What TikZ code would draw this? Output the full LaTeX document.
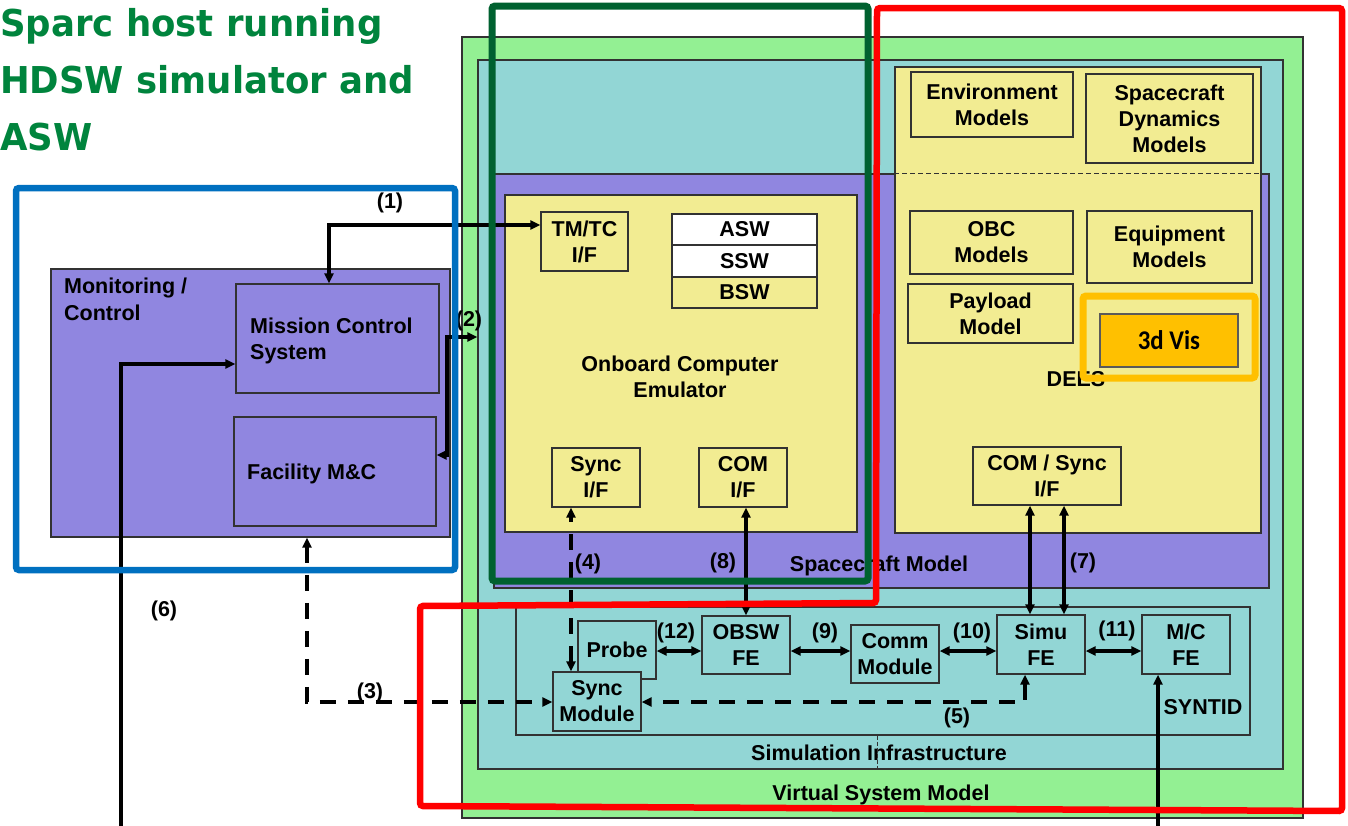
\documentclass[tikz,border=0pt]{standalone}
\usepackage{fontspec}
\setmainfont{Liberation Sans}
\newfontfamily\titlef{DejaVu Sans}
\newfontfamily\visf{Carlito}
\usetikzlibrary{arrows.meta,fit}
\definecolor{vsmc}{RGB}{147,240,147}
\definecolor{simc}{RGB}{146,214,213}
\definecolor{scmc}{RGB}{144,134,224}
\definecolor{ylwc}{RGB}{242,236,146}
\definecolor{ttlc}{RGB}{0,132,61}
\definecolor{bluec}{RGB}{0,112,192}
\definecolor{dgreenc}{RGB}{0,97,48}
\definecolor{orngc}{RGB}{255,192,0}
\definecolor{edgec}{RGB}{50,50,50}
\definecolor{grayc}{RGB}{90,90,90}
\newcommand{\boxfont}{\bfseries\fontsize{21.5}{26}\selectfont}
% \bx[options]{name}{x1}{y1}{x2}{y2} {text};
\newcommand{\bx}[6][]{\node[box,#1,minimum width={(#5-#3)*1pt},minimum height={(#6-#4)*1pt}] (#2) at ({(#3+#5)/2},{(#4+#6)/2})}
\begin{document}
\begin{tikzpicture}[x=1pt,y=-1pt,
  >={Triangle[length=10pt,width=9pt]},
  cont/.style={draw=edgec, line width=1.2pt, inner sep=0pt},
  box/.style={draw=edgec, line width=1.4pt, inner sep=0pt, align=center, font=\boxfont},
  lbl/.style={inner sep=0pt, font=\boxfont},
  ttl/.style={inner sep=0pt, anchor=base west, text=ttlc, font=\titlef\bfseries\fontsize{37}{44}\selectfont},
  conn/.style={line width=3.2pt, black},
  dconn/.style={line width=3.2pt, black, dash pattern=on 16pt off 12pt},
  hl/.style={draw=#1, line width=6.5pt, inner sep=0pt, rounded corners=3pt}]
\useasboundingbox (0,0) rectangle (1348,825);
\fill[white] (0,0) rectangle (1348,825);

% title
\node[ttl] (t1) at (0,36) {\scalebox{0.96}[1]{Sparc host running}};
\node[ttl] (t2) at (0,93) {\scalebox{0.96}[1]{HDSW simulator and}};
\node[ttl] (t3) at (0,150) {\scalebox{0.96}[1]{ASW}};

% containers
\node[cont, fill=vsmc, fit={(462,37)(1303,818)}] (vsm) {};
\node[cont, fill=simc, fit={(478,60)(1283,769)}] (sim) {};
\node[cont, fill=scmc, fit={(494,174)(1269,588)}] (scm) {};
\node[cont, fill=ylwc, fit={(895,67)(1261,533)}] (dees) {};
\draw[edgec, line width=1.2pt, dash pattern=on 5pt off 3pt] (dees.west |- scm.north) -- (dees.east |- scm.north);

% OBC emulator
\node[cont, fill=ylwc, fit={(505,195)(857,532)}] (obc) {};
\bx[fill=ylwc]{tmtc}{541}{212}{628}{271} {TM/TC\\I/F};
\bx[fill=white]{asw}{672}{214}{817}{245} {ASW};
\bx[fill=white]{ssw}{672}{245}{817}{277} {SSW};
\bx[fill=ylwc]{bsw}{672}{277}{817}{308} {BSW};
\bx[fill=ylwc]{syncif}{552}{448}{640}{507} {Sync\\I/F};
\bx[fill=ylwc]{comif}{699}{448}{787}{507} {COM\\I/F};
\node[lbl, anchor=base] (obcl1) at (680,371) {Onboard Computer};
\node[lbl, anchor=base] (obcl2) at (680,397) {Emulator};

% DEES
\bx[fill=ylwc]{env}{911}{72}{1073}{137} {Environment\\Models};
\bx[fill=ylwc]{scd}{1086}{74}{1253}{163} {Spacecraft\\Dynamics\\Models};
\bx[fill=ylwc]{obcm}{910}{211}{1073}{274} {OBC\\Models};
\bx[fill=ylwc]{equip}{1087}{211}{1252}{283} {Equipment\\Models};
\bx[fill=ylwc]{payload}{908}{284}{1073}{343} {Payload\\Model};
\node[lbl, anchor=base] (deesl) at (1076,386) {DEES};
\bx[draw=grayc, line width=2pt, fill=orngc, font=\visf\bfseries\fontsize{27}{30}\selectfont]{vis}{1100}{314}{1238}{367} {\scalebox{0.92}[1]{3d Vis}};
\bx[fill=ylwc]{comsync}{973}{447}{1121}{505} {COM / Sync\\I/F};

% labels of containers
\node[lbl, anchor=base] (scml) at (879,571) {Spacecraft Model};
\node[lbl, anchor=base] (siml) at (879,760) {Simulation Infrastructure};
\node[lbl, anchor=base] (vsml) at (881,800) {Virtual System Model};

% SYNTID
\node[cont, fit={(516,607)(1250,735)}] (syntid) {};
\node[lbl, anchor=base] (syntidl) at (1203,714) {SYNTID};
\bx[fill=simc]{probe}{578}{621}{656}{679} {Probe};
\bx[fill=simc]{syncmod}{553}{672}{641}{731} {Sync\\Module};
\bx[fill=simc]{obsw}{702}{616}{790}{674} {OBSW\\FE};
\bx[fill=simc]{comm}{851}{625}{939}{683} {Comm\\Module};
\bx[fill=simc]{simu}{997}{615}{1085}{674} {Simu\\FE};
\bx[fill=simc]{mcfe}{1142}{615}{1230}{674} {M/C\\FE};
\coordinate (cdiv) at (877,0);
\draw[edgec, line width=0.8pt, dash pattern=on 4pt off 2pt] (syntid.south -| cdiv) -- (sim.south -| cdiv);

% Monitoring / Control
\node[cont, fill=scmc, fit={(51,269)(450,537)}] (mon) {};
\node[cont, fill=scmc, fit={(236,284)(439,393)}] (mcs) {};
\node[cont, fill=scmc, fit={(234,417)(436,526)}] (fac) {};
\node[lbl, anchor=base west] (monl1) at (64,293) {Monitoring /};
\node[lbl, anchor=base west] (monl2) at (64,320) {Control};
\node[lbl, anchor=base west] (mcsl1) at (250,333) {Mission Control};
\node[lbl, anchor=base west] (mcsl2) at (250,359) {System};
\node[lbl, anchor=base west] (facl) at (247,479) {Facility M\&C};

% helper coordinates
\coordinate (c1) at (329,225);
\coordinate (c2a) at (447,455);
\coordinate (c2b) at (447,337);
\coordinate (c3) at (307,702);
\coordinate (c4) at (571,0);
\coordinate (c5) at (1025,702);
\coordinate (c6) at (121,364);
\coordinate (c6b) at (121,830);
\coordinate (c7a) at (1030,0);
\coordinate (c7b) at (1064,0);
\coordinate (c8) at (746,0);
\coordinate (ch) at (0,651);
\coordinate (cmc) at (1158,830);

% connectors
\draw[conn,<->] (mcs.north -| c1) |- (tmtc.west |- c1);
\draw[conn,<->] (fac.east |- c2a) -- (c2a) -- (c2b) -- (sim.west |- c2b);
\draw[dconn,<->] (mon.south -| c3) -- (c3) -- (syncmod.west |- c3);
\draw[dconn,<->] (syncmod.north -| c4) -- (syncif.south -| c4);
\draw[dconn,<->] (simu.south -| c5) -- (c5) -- (syncmod.east |- c5);
\draw[conn,->] (c6b) |- (mcs.west |- c6);
\draw[conn,<->] (simu.north -| c7a) -- (comsync.south -| c7a);
\draw[conn,<->] (simu.north -| c7b) -- (comsync.south -| c7b);
\draw[conn,<->] (obsw.north -| c8) -- (comif.south -| c8);
\draw[conn,<->] (probe.east |- ch) -- (obsw.west |- ch);
\draw[conn,<->] (obsw.east |- ch) -- (comm.west |- ch);
\draw[conn,<->] (comm.east |- ch) -- (simu.west |- ch);
\draw[conn,<->] (simu.east |- ch) -- (mcfe.west |- ch);
\draw[conn,->] (cmc) -- (mcfe.south -| cmc);

% connector labels
\node[lbl, anchor=base] (l1) at (390,208) {(1)};
\node[lbl, anchor=base] (l2) at (469,326) {(2)};
\node[lbl, anchor=base] (l3) at (370,698) {(3)};
\node[lbl, anchor=base] (l4) at (588,569) {(4)};
\node[lbl, anchor=base] (l5) at (957,723) {(5)};
\node[lbl, anchor=base] (l6) at (164,616) {(6)};
\node[lbl, anchor=base] (l7) at (1083,568) {(7)};
\node[lbl, anchor=base] (l8) at (723,568) {(8)};
\node[lbl, anchor=base] (l9) at (825,638) {(9)};
\node[lbl, anchor=base] (l10) at (972,638) {(10)};
\node[lbl, anchor=base] (l11) at (1117,636) {(11)};
\node[lbl, anchor=base] (l12) at (676,638) {(12)};

% highlight frames
\node[hl=dgreenc, line width=7pt, fit={(492,6)(868,581)}] (gfr) {};
\draw[red, line width=6.5pt, rounded corners=3pt] (877,8) -- (1342,8) -- (1342,811) -- (420,806) -- (420,606) -- (876,603) -- cycle;
\node[hl=bluec, fit={(16,188)(455,570)}] (bfr) {};
\node[hl=orngc, line width=7pt, fit={(1083,296)(1255,378)}] (ofr) {};
\end{tikzpicture}
\end{document}
